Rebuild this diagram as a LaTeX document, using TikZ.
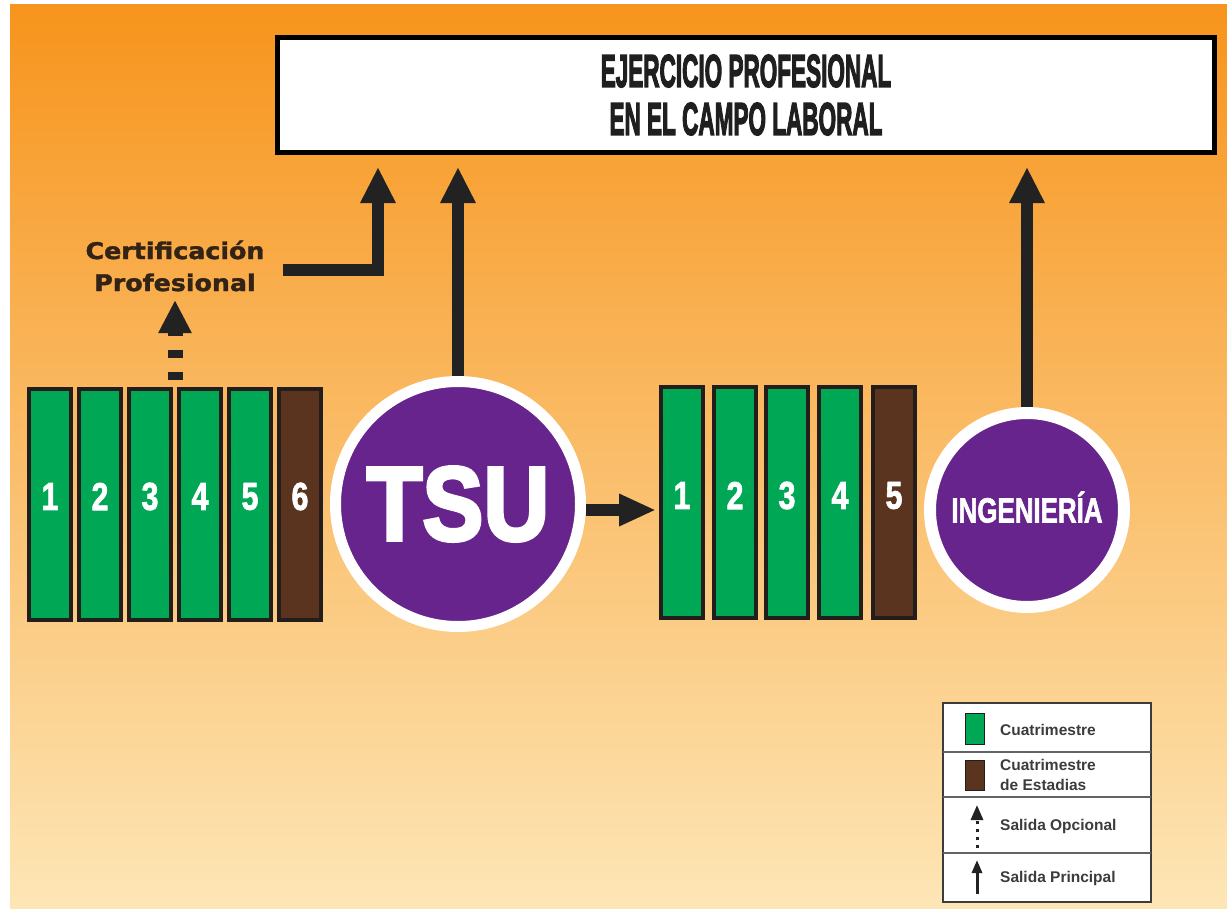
\documentclass[tikz,border=0pt]{standalone}
\usepackage{fontspec}
\usepackage{graphicx}
\usetikzlibrary{arrows.meta,calc}
\setmainfont{Liberation Sans}
\newfontfamily\heavy{Liberation Sans Bold}[FakeBold=2]
\newfontfamily\heavyx{Liberation Sans Bold}[FakeBold=3.5]
\newfontfamily\dvb{DejaVu Sans Bold}[FakeBold=1.5]
\newfontfamily\legf{Liberation Sans Bold}
\newcommand{\cnd}[2]{\scalebox{#1}[1]{#2}}
\definecolor{grn}{RGB}{0,168,85}
\definecolor{brn}{RGB}{90,52,30}
\definecolor{purp}{RGB}{102,36,140}
\definecolor{barline}{RGB}{35,30,28}
\definecolor{arrc}{RGB}{34,34,34}
\definecolor{bgtop}{RGB}{247,148,28}
\definecolor{bgmid}{RGB}{250,192,100}
\definecolor{bgbot}{RGB}{253,230,182}
\definecolor{certc}{RGB}{50,35,22}
\definecolor{legc}{RGB}{60,60,60}
\tikzset{
  bar/.style={draw=barline, line width=4pt, minimum width=42pt, minimum height=231pt, inner sep=0pt},
  cuat/.style={bar, fill=grn},
  estad/.style={bar, fill=brn},
  num/.style={text=white, inner sep=0pt, font=\heavy\fontsize{39}{39}\selectfont},
  marr/.style={draw=arrc, line width=12pt, -{Triangle[length=36pt,width=33pt]}},
  harr/.style={draw=arrc, line width=12pt, -{Triangle[length=37pt,width=30pt]}},
  darr/.style={draw=arrc, line width=15pt, dash pattern=on 8pt off 14pt, -{Triangle[length=33pt,width=31pt]}},
  exitc/.style={circle, fill=purp, draw=white, inner sep=0pt, text=white},
  legtxt/.style={anchor=west, inner sep=0pt, text=legc, align=left, font=\legf\fontsize{15.5}{20}\selectfont},
  legsw/.style={draw=barline, line width=1pt, minimum width=19pt, minimum height=30pt, inner sep=0pt},
}
\begin{document}
\begin{tikzpicture}[x=1pt,y=-1pt]
\useasboundingbox (0,0) rectangle (1227,918);
\fill[white] (0,0) rectangle (1227,918);
\shade[top color=bgtop, middle color=bgmid, bottom color=bgbot] (10,4) rectangle (1227,908);

% top box
\node[draw=black, line width=5pt, fill=white, minimum width=937pt, minimum height=115pt, inner sep=0pt,
      align=center, text=black!88, font=\heavyx\fontsize{46}{48}\selectfont] (top) at (746,95)
  {\cnd{0.49}{EJERCICIO PROFESIONAL}\\\cnd{0.49}{EN EL CAMPO LABORAL}};

% left bars
\node[cuat] (b1) at (50,504.5) {};
\node[cuat] (b2) at (100,504.5) {};
\node[cuat] (b3) at (150,504.5) {};
\node[cuat] (b4) at (200,504.5) {};
\node[cuat] (b5) at (250,504.5) {};
\node[estad] (b6) at (300,504.5) {};
\node[num] (n1) at ($(b1.center)+(0,-8)$) {\cnd{0.78}{1}};
\node[num] (n2) at ($(b2.center)+(0,-8)$) {\cnd{0.78}{2}};
\node[num] (n3) at ($(b3.center)+(0,-8)$) {\cnd{0.78}{3}};
\node[num] (n4) at ($(b4.center)+(0,-8)$) {\cnd{0.78}{4}};
\node[num] (n5) at ($(b5.center)+(0,-8)$) {\cnd{0.78}{5}};
\node[num] (n6) at ($(b6.center)+(0,-8)$) {\cnd{0.78}{6}};

% right bars
\node[cuat] (r1) at (682,502.5) {};
\node[cuat] (r2) at (735,502.5) {};
\node[cuat] (r3) at (787,502.5) {};
\node[cuat] (r4) at (840,502.5) {};
\node[estad] (r5) at (894,502.5) {};
\node[num] (m1) at ($(r1.center)+(0,-7)$) {\cnd{0.78}{1}};
\node[num] (m2) at ($(r2.center)+(0,-7)$) {\cnd{0.78}{2}};
\node[num] (m3) at ($(r3.center)+(0,-7)$) {\cnd{0.78}{3}};
\node[num] (m4) at ($(r4.center)+(0,-7)$) {\cnd{0.78}{4}};
\node[num] (m5) at ($(r5.center)+(0,-7)$) {\cnd{0.78}{5}};

% circles
\node[exitc, line width=11pt, minimum size=245pt, font=\heavyx\fontsize{105}{105}\selectfont] (tsu) at (458,504) {\cnd{0.87}{TSU}};
\node[exitc, line width=12pt, minimum size=194pt, text height=25pt, text depth=0pt, font=\heavy\fontsize{35}{35}\selectfont] (ing) at (1027,510) {\cnd{0.74}{INGENIERÍA}};

% certification text
\node[align=center, inner sep=0pt, text=certc, font=\dvb\fontsize{23}{32}\selectfont] (cert) at (175,266)
  {\cnd{1.1}{Certificación}\\\cnd{1.1}{Profesional}};

% connectors
\coordinate (cs) at (283,270);
\draw[marr, shorten >=12pt] (cs) -| ([xshift=103pt]top.south west);
\draw[marr, shorten >=12pt] (tsu.north) -- (tsu.north |- top.south);
\draw[marr, shorten >=12pt] (ing.north) -- (ing.north |- top.south);
\draw[harr, shorten >=3pt] ([yshift=-6pt]tsu.east) -- ([yshift=-6pt]tsu.east -| r1.west);
\coordinate (dstart) at ($(b3.north)!0.5!(b4.north)$);
\draw[darr, shorten <=7pt] (dstart) -- ++(0,-87);

% legend
\node[draw=legc, line width=2pt, fill=white, minimum width=208pt, minimum height=199pt, inner sep=0pt] (leg) at (1047,802.5) {};
\draw[legc!80, line width=2.5pt] (943,752) -- (1151,752);
\draw[legc!80, line width=2.5pt] (943,797) -- (1151,797);
\draw[legc!80, line width=2.5pt] (943,853) -- (1151,853);
\node[legsw, fill=grn, minimum height=31pt] (lg1) at (975,729) {};
\node[legsw, fill=brn] (lg2) at (975,775) {};
\node[legtxt] (lt1) at (1000,730) {Cuatrimestre};
\node[legtxt] (lt2) at (1000,775) {Cuatrimestre\\de Estadias};
\node[legtxt] (lt3) at (1000,826) {Salida Opcional};
\node[legtxt] (lt4) at (1000,878) {Salida Principal};
\coordinate (la1) at (977,848);
\coordinate (la2) at (977,805);
\coordinate (la3) at (977,894);
\coordinate (la4) at (977,860);
\draw[arrc, line width=3pt, dash pattern=on 3pt off 5pt, -{Triangle[length=15pt,width=12pt]}] (la1) -- (la2);
\draw[arrc, line width=3pt, -{Triangle[length=13pt,width=10pt]}] (la3) -- (la4);
\end{tikzpicture}
\end{document}
